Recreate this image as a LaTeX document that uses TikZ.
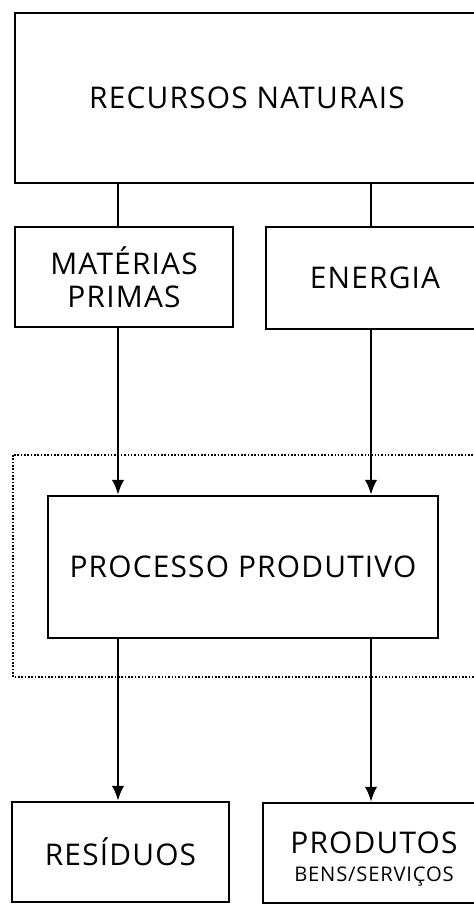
\documentclass[tikz,border=0pt]{standalone}
\usepackage{fontspec}
\setmainfont{Open Sans}
\newfontfamily\boxfont[LetterSpace=4]{Open Sans}
\usepackage{tikz}
\usetikzlibrary{positioning, calc, arrows.meta}
\tikzset{
	box/.style={
		draw, line width=1.4pt, align=center, inner sep=0pt,
		font=\boxfont\fontsize{17}{19}\selectfont,
	},
	link/.style={line width=1.4pt},
	flow/.style={line width=1.4pt, -{Latex[length=0.3cm, width=0.25cm]}},
	frame/.style={densely dotted, line width=0.9pt},
}

\begin{document}
\begin{tikzpicture}[x=0.02cm, y=-0.02cm]
		\useasboundingbox (0,0) rectangle (474,904);
		\clip (0,0) rectangle (474,904);

		\coordinate (left) at (118,0);
		\coordinate (right) at (371,0);

		\node (recursos) [box, minimum width=9.28cm, minimum height=3.4cm] at (247,98) {RECURSOS NATURAIS};
		\node (materias) [box, minimum width=4.36cm, minimum height=2cm] at (124,277) {MATÉRIAS\\PRIMAS};
		\node (energia) [box, minimum width=4.36cm, minimum height=2.04cm] at (375,278) {ENERGIA};
		\node (processo) [box, minimum width=7.8cm, minimum height=2.84cm] at (243,567) {PROCESSO PRODUTIVO};
		\node (residuos) [box, minimum width=4.34cm, minimum height=2cm] at (120.5,852) {RESÍDUOS};
		\node (produtos) [box, minimum width=4.44cm, minimum height=2cm] at (374,853) {\rule{0pt}{19pt}PRODUTOS\\[-3pt]{\fontsize{11.5}{12}\selectfont BENS/SERVIÇOS}};

		\draw[frame] (13,455) rectangle (495,677);

		\draw[link] (recursos.south -| left) -- (materias.north -| left);
		\draw[link] (recursos.south -| right) -- (energia.north -| right);
		\draw[flow] (materias.south -| left) -- (processo.north -| left);
		\draw[flow] (energia.south -| right) -- (processo.north -| right);
		\draw[flow] (processo.south -| left) -- (residuos.north -| left);
		\draw[flow] (processo.south -| right) -- (produtos.north -| right);
	\end{tikzpicture}
\end{document}
